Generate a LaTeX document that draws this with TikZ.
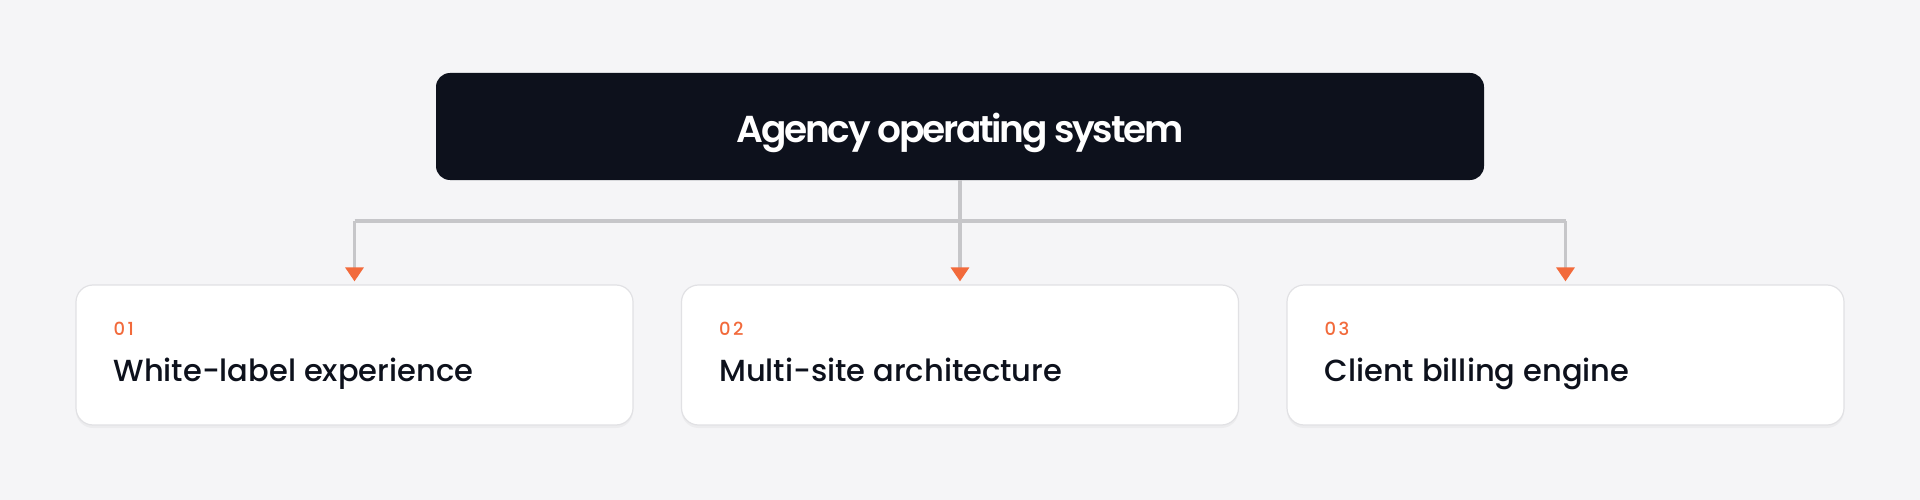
\documentclass[tikz,border=0pt]{standalone}
\usepackage{fontspec}
\setmainfont{Poppins}
\newfontfamily\headfont[LetterSpace=-6]{Poppins SemiBold}
\newfontfamily\cardfont{Poppins Medium}
\newfontfamily\numfont[LetterSpace=14]{Poppins Medium}
\usetikzlibrary{arrows.meta,shadows}
\definecolor{bg}{HTML}{F5F5F7}
\definecolor{ink}{HTML}{0D111C}
\definecolor{accent}{HTML}{F26A3B}
\definecolor{linkgray}{HTML}{C6C6C9}
\definecolor{cardedge}{HTML}{E1E1E4}
\tikzset{
  card/.style={draw=cardedge,line width=1.2pt,fill=white,rounded corners=17pt,
    minimum width=557pt,minimum height=140pt,
    drop shadow={opacity=0.07,shadow xshift=0pt,shadow yshift=-3pt}},
  link/.style={draw=linkgray,line width=3.2pt},
  drop/.style={link,-{Triangle[length=14pt,width=18pt,color=accent]},shorten >=3pt},
}
\begin{document}
\begin{tikzpicture}[x=1pt,y=-1pt]
  \fill[bg] (0,0) rectangle (1920,500);
  \useasboundingbox (0,0) rectangle (1920,500);
  % top box
  \node[fill=ink,rounded corners=14pt,minimum width=1048pt,minimum height=107pt,
    text height=32pt,text depth=0pt,text=white,
    font=\headfont\fontsize{37.5}{40}\selectfont] (sys) at (960,126.5) {Agency operating system};
  \coordinate (bus) at (960,221);
  % cards
  \foreach \i/\x/\t in {1/354.5/White-label experience,2/960/Multi-site architecture,3/1565.5/Client billing engine}{
    \node[card] (card\i) at (\x,355) {};
    \node[anchor=base west,text=accent,font=\numfont\fontsize{18}{20}\selectfont,inner sep=0pt]
      (num\i) at ([xshift=38pt]card\i.west |- 0,335) {0\i};
    \node[anchor=base west,text=ink,font=\cardfont\fontsize{30.5}{34}\selectfont,inner sep=0pt]
      (lab\i) at ([xshift=38pt]card\i.west |- 0,381) {\t};
  }
  % connectors
  \draw[link] (sys.south) -- (bus);
  \draw[link] (bus -| card1.north) -- (bus -| card3.north);
  \foreach \i in {1,2,3}
    \draw[drop] (bus -| card\i.north) -- (card\i.north);
\end{tikzpicture}
\end{document}
